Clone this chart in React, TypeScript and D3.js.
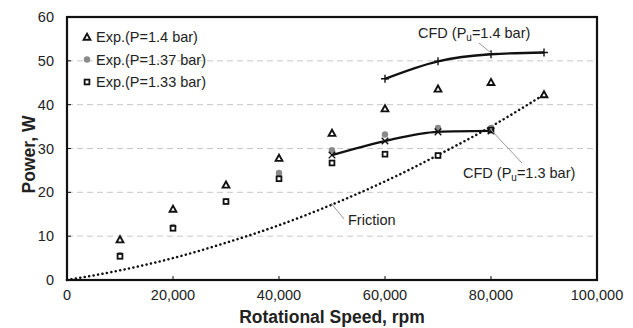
import React from "react";
import * as d3 from "d3";

const W = 633, H = 328;
const M = { left: 67, right: 36, top: 17, bottom: 48 };

const xTicks = [0, 20000, 40000, 60000, 80000, 100000];
const yTicks = [0, 10, 20, 30, 40, 50, 60];

const expSpeeds = [10000, 20000, 30000, 40000, 50000, 60000, 70000, 80000, 90000];
const exp140 = [9.2, 16.2, 21.7, 27.8, 33.5, 39.1, 43.6, 45.1, 42.3];
const exp137Speeds = [10000, 20000, 30000, 40000, 50000, 60000, 70000, 80000];
const exp137 = [5.7, 12.1, 18.0, 24.4, 29.6, 33.2, 34.7, 34.7];
const exp133Speeds = [10000, 20000, 30000, 40000, 50000, 60000, 70000, 80000];
const exp133 = [5.4, 11.8, 17.9, 23.1, 26.7, 28.7, 28.4, 34.2];

const cfd14Speeds = [60000, 70000, 80000, 90000];
const cfd14 = [45.9, 49.9, 51.5, 51.9];
const cfd13Speeds = [50000, 60000, 70000, 80000];
const cfd13 = [28.5, 31.7, 33.8, 34.0];

const frictionSpeeds = [0, 10000, 20000, 30000, 40000, 50000, 60000, 70000, 80000, 90000];
const friction = [0, 2.2, 5.0, 8.5, 12.5, 17.2, 22.5, 28.5, 35.0, 42.3];

const legendLabels = ["Exp.(P=1.4 bar)", "Exp.(P=1.37 bar)", "Exp.(P=1.33 bar)"];

const font = "Arial, 'Liberation Sans', sans-serif";

function Tri({ x, y }: { x: number; y: number }) {
  const s = 3.4;
  return (
    <path
      d={`M${x},${y - s}L${x + s},${y + s * 0.8}L${x - s},${y + s * 0.8}Z`}
      fill="white"
      stroke="#111"
      strokeWidth={1.9}
      strokeLinejoin="miter"
    />
  );
}
function Sq({ x, y }: { x: number; y: number }) {
  return <rect x={x - 2.4} y={y - 2.4} width={4.8} height={4.8} fill="white" stroke="#111" strokeWidth={1.8} />;
}
function Dot({ x, y }: { x: number; y: number }) {
  return <circle cx={x} cy={y} r={3.2} fill="#8a8a8a" />;
}
function Plus({ x, y }: { x: number; y: number }) {
  const s = 4;
  return <path d={`M${x - s},${y}H${x + s}M${x},${y - s}V${y + s}`} stroke="#111" strokeWidth={1.4} />;
}
function Cross({ x, y }: { x: number; y: number }) {
  const s = 3.3;
  return <path d={`M${x - s},${y - s}L${x + s},${y + s}M${x - s},${y + s}L${x + s},${y - s}`} stroke="#111" strokeWidth={1.4} />;
}

export default function App() {
  const x = d3.scaleLinear().domain([0, 100000]).range([M.left, W - M.right]);
  const y = d3.scaleLinear().domain([0, 60]).range([H - M.bottom, M.top]);
  const smooth = d3
    .line<[number, number]>()
    .x((d) => x(d[0]))
    .y((d) => y(d[1]))
    .curve(d3.curveMonotoneX);
  const fmt = d3.format(",");

  const zip = (a: number[], b: number[]) => a.map((v, i) => [v, b[i]] as [number, number]);
  const fs = 14.5;

  return (
    <svg width={W} height={H} style={{ position: "absolute", left: 0, top: 0, background: "white" }} fontFamily={font}>
      {/* gridlines */}
      {yTicks
        .filter((t) => t > 0 && t < 60)
        .map((t) => (
          <line key={t} x1={x(0)} x2={x(100000)} y1={y(t)} y2={y(t)} stroke="#c8c8c8" strokeWidth={1} strokeDasharray="6,4" />
        ))}
      {/* ticks */}
      {xTicks.map((t) => (
        <line key={"xt" + t} x1={x(t)} x2={x(t)} y1={y(0)} y2={y(0) - 4} stroke="#111" strokeWidth={1} />
      ))}
      {yTicks.map((t) => (
        <line key={"yt" + t} x1={x(0)} x2={x(0) + 4} y1={y(t)} y2={y(t)} stroke="#111" strokeWidth={1} />
      ))}
      {/* friction */}
      <path d={smooth(zip(frictionSpeeds, friction)) || ""} fill="none" stroke="#111" strokeWidth={2.5} strokeDasharray="0.1,4.4" strokeLinecap="round" />
      {/* CFD lines */}
      <path d={smooth(zip(cfd14Speeds, cfd14)) || ""} fill="none" stroke="#111" strokeWidth={2.3} />
      <path d={smooth(zip(cfd13Speeds, cfd13)) || ""} fill="none" stroke="#111" strokeWidth={2.3} />
      {/* markers */}
      {exp137Speeds.map((s, i) => <Dot key={"c" + i} x={x(s)} y={y(exp137[i])} />)}
      {exp140.map((v, i) => <Tri key={"t" + i} x={x(expSpeeds[i])} y={y(v)} />)}
      {exp133.map((v, i) => <Sq key={"s" + i} x={x(exp133Speeds[i])} y={y(v)} />)}
      {cfd14.map((v, i) => <Plus key={"p" + i} x={x(cfd14Speeds[i])} y={y(v)} />)}
      {cfd13.map((v, i) => <Cross key={"x" + i} x={x(cfd13Speeds[i])} y={y(v)} />)}

      {/* annotations */}
      <line x1={479} y1={43} x2={491} y2={53} stroke="#999" strokeWidth={1} />
      <text x={418} y={38} fontSize={fs} fill="#222">
        CFD (P<tspan fontSize={10} dy={3}>u</tspan>
        <tspan dy={-3}>=1.4 bar)</tspan>
      </text>
      <line x1={491} y1={130} x2={522} y2={163} stroke="#999" strokeWidth={1} />
      <text x={463} y={178} fontSize={fs} fill="#222">
        CFD (P<tspan fontSize={10} dy={3}>u</tspan>
        <tspan dy={-3}>=1.3 bar)</tspan>
      </text>
      <line x1={331} y1={203} x2={344} y2={219} stroke="#999" strokeWidth={1} />
      <text x={348} y={225} fontSize={fs} fill="#222">Friction</text>

      {/* legend */}
      {legendLabels.map((l, i) => {
        const ly = 37 + i * 22.5;
        return (
          <g key={l}>
            {i === 0 && <Tri x={87} y={ly} />}
            {i === 1 && <Dot x={87} y={ly} />}
            {i === 2 && <Sq x={87} y={ly} />}
            <text x={96} y={ly + 5} fontSize={fs} fill="#222">{l}</text>
          </g>
        );
      })}

      {/* frame */}
      <rect x={x(0)} y={y(60)} width={x(100000) - x(0)} height={y(0) - y(60)} fill="none" stroke="#111" strokeWidth={2.2} />

      {/* tick labels */}
      {xTicks.map((t) => (
        <text key={"xl" + t} x={x(t)} y={y(0) + 20} fontSize={fs} textAnchor="middle" fill="#222">
          {fmt(t)}
        </text>
      ))}
      {yTicks.map((t) => (
        <text key={"yl" + t} x={x(0) - 13} y={y(t) + 5} fontSize={fs} textAnchor="end" fill="#222">
          {t}
        </text>
      ))}
      <text x={(x(0) + x(100000)) / 2} y={323} fontSize={17.5} fontWeight="bold" textAnchor="middle" fill="#222">
        Rotational Speed, rpm
      </text>
      <text transform={`translate(35,${(y(0) + y(60)) / 2 + 6}) rotate(-90)`} fontSize={17.5} fontWeight="bold" textAnchor="middle" fill="#222">
        Power, W
      </text>
    </svg>
  );
}
